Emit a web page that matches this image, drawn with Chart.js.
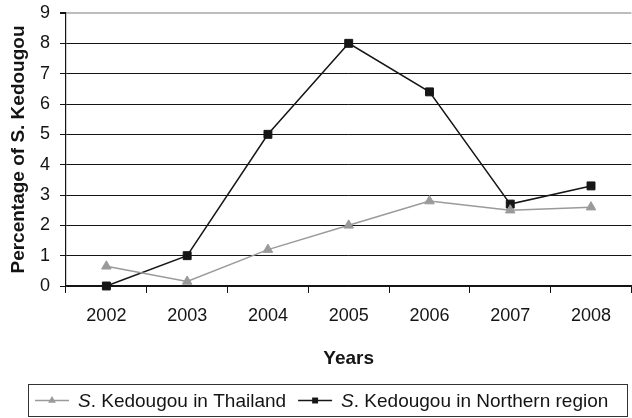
<!DOCTYPE html>
<html>
<head>
<meta charset="utf-8">
<script src="https://cdn.jsdelivr.net/npm/chart.js@4/dist/chart.umd.min.js"></script>
<style>
  html, body { margin: 0; padding: 0; overflow: hidden; background: #fff; }
  #wrap { width: 638px; height: 418px; }
</style>
</head>
<body>
<div id="wrap"><canvas id="c" width="638" height="418"></canvas></div>
<script>
// Years on the x axis
const years = ['2002', '2003', '2004', '2005', '2006', '2007', '2008'];
// Percentage of S. Kedougou isolates, nationwide
const thailand = [0.65, 0.15, 1.2, 2.0, 2.8, 2.5, 2.6];
// Percentage of S. Kedougou isolates, Northern region
const northern = [0, 1.0, 5.0, 8.0, 6.4, 2.7, 3.3];
// Series names (the leading "S." is set in italics in the key)
const seriesNames = ['S. Kedougou in Thailand', 'S. Kedougou in Northern region'];
const yTicks = [0, 1, 2, 3, 4, 5, 6, 7, 8, 9];

const FONT = "'Liberation Sans', Arial, Helvetica, sans-serif";
const INK = '#141414';

function drawMarker(ctx, style, x, y, r, color) {
  ctx.save();
  ctx.fillStyle = color;
  ctx.beginPath();
  if (style === 'triangle') {
    const h = r * 1.5, w = r * Math.sqrt(3);
    ctx.moveTo(x, y - r);
    ctx.lineTo(x + w / 2, y - r + h);
    ctx.lineTo(x - w / 2, y - r + h);
    ctx.closePath();
  } else {
    const s = r * Math.SQRT1_2;
    ctx.rect(x - s, y - s, 2 * s, 2 * s);
  }
  ctx.fill();
  ctx.restore();
}

// Boxed key under the plot, built from the datasets
const boxedLegend = {
  id: 'boxedLegend',
  afterDraw(chart) {
    const ctx = chart.ctx;
    const box = { x: 28.5, y: 384.5, w: 599, h: 32 };
    ctx.save();
    ctx.strokeStyle = '#333';
    ctx.lineWidth = 1;
    ctx.strokeRect(box.x, box.y, box.w, box.h);
    const cy = box.y + box.h / 2;
    let x = 35;
    ctx.textBaseline = 'middle';
    chart.data.datasets.forEach(ds => {
      // sample line with marker
      ctx.strokeStyle = ds.borderColor;
      ctx.lineWidth = 1.5;
      ctx.beginPath();
      ctx.moveTo(x, cy);
      ctx.lineTo(x + 34, cy);
      ctx.stroke();
      drawMarker(ctx, ds.pointStyle, x + 17, cy, ds.pointStyle === 'triangle' ? 4.5 : 4.2, ds.pointBackgroundColor);
      x += 34 + 9;
      const dot = ds.label.indexOf('.');
      const head = ds.label.slice(0, dot);
      const tail = ds.label.slice(dot);
      ctx.fillStyle = INK;
      ctx.font = 'italic 19px ' + FONT;
      ctx.fillText(head, x, cy + 1);
      x += ctx.measureText(head).width;
      ctx.font = '19px ' + FONT;
      ctx.fillText(tail, x, cy + 1);
      x += ctx.measureText(tail).width + 12;
    });
    ctx.restore();
  }
};

new Chart(document.getElementById('c'), {
  type: 'line',
  data: {
    labels: years,
    datasets: [
      {
        label: seriesNames[0],
        data: thailand,
        borderColor: '#9a9a9a',
        backgroundColor: '#9a9a9a',
        pointBackgroundColor: '#9a9a9a',
        pointBorderColor: '#9a9a9a',
        pointStyle: 'triangle',
        pointRadius: 5.5,
        pointBorderWidth: 1,
        borderWidth: 1.5,
        tension: 0,
        clip: false
      },
      {
        label: seriesNames[1],
        data: northern,
        borderColor: '#161616',
        backgroundColor: '#161616',
        pointBackgroundColor: '#161616',
        pointBorderColor: '#161616',
        pointStyle: 'rect',
        pointRadius: 5.6,
        pointBorderWidth: 1,
        borderWidth: 1.5,
        tension: 0,
        clip: false
      }
    ]
  },
  options: {
    responsive: false,
    animation: false,
    layout: { padding: { top: 13, right: 0, bottom: 48, left: 0 } },
    plugins: { legend: { display: false }, tooltip: { enabled: false } },
    scales: {
      x: {
        type: 'category',
        offset: true,
        grid: { offset: true, drawOnChartArea: false, drawTicks: true, tickLength: 7, color: INK, tickColor: INK, lineWidth: 1 },
        border: { display: true, color: INK, width: 1.2 },
        ticks: { color: INK, font: { family: FONT, size: 18 }, padding: 12, maxRotation: 0 },
        title: { display: true, text: 'Years', color: INK, font: { family: FONT, size: 19, weight: 'bold' }, padding: { top: 0, bottom: 0 } },
        afterFit(scale) {
          scale.height = 418 - 286 - 48;
          scale.paddingLeft = 0;
          scale.paddingRight = 0;
        }
      },
      y: {
        min: yTicks[0],
        max: yTicks[yTicks.length - 1],
        afterBuildTicks(scale) { scale.ticks = yTicks.map(v => ({ value: v })); },
        grid: {
          color: ctx => (ctx.tick && ctx.tick.value === 9 ? '#bdbdbd' : INK),
          lineWidth: ctx => (ctx.tick && ctx.tick.value === 9 ? 2 : 1),
          tickColor: INK,
          tickLength: 6,
          drawTicks: true
        },
        border: { display: true, color: INK, width: 1.2 },
        ticks: { color: INK, font: { family: FONT, size: 18 }, padding: 10, callback: v => String(v) },
        title: { display: true, text: 'Percentage of S. Kedougou', color: INK, font: { family: FONT, size: 19, weight: 'bold' }, padding: { top: 7, bottom: 0 } },
        afterFit(scale) {
          scale.width = 66;
          scale.paddingTop = 0;
          scale.paddingBottom = 0;
        }
      }
    }
  },
  plugins: [boxedLegend]
});
</script>
</body>
</html>
